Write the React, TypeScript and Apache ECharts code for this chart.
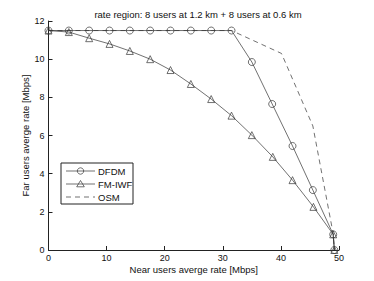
import React, { useEffect, useRef } from "react";
import * as echarts from "echarts";

const titleText = "rate region: 8 users at 1.2 km + 8 users at 0.6 km";
const xName = "Near users averge rate [Mbps]";
const yName = "Far users averge rate [Mbps]";
const legendNames = ["DFDM", "FM-IWF", "OSM"];

const dfdmX = [0, 3.5, 7, 10.5, 14, 17.5, 21, 24.5, 28, 31.5, 35, 38.5, 42, 45.5, 49, 49.2];
const dfdmY = [11.5, 11.5, 11.5, 11.5, 11.5, 11.5, 11.5, 11.5, 11.5, 11.5, 9.85, 7.65, 5.45, 3.14, 0.82, 0];
const iwfX = [0, 3.5, 7, 10.5, 14, 17.5, 21, 24.5, 28, 31.5, 35, 38.6, 42, 45.6, 49, 49.2];
const iwfY = [11.5, 11.42, 11.1, 10.8, 10.43, 10.0, 9.43, 8.7, 7.91, 7.04, 6.02, 4.88, 3.66, 2.26, 0.82, 0];
const osmX = [0, 31.5, 40.1, 45.5, 49, 49.2];
const osmY = [11.5, 11.5, 10.3, 6.5, 0.85, 0];

const zip = (xs: number[], ys: number[]) => xs.map((x, i) => [x, ys[i]]);

export default function App() {
  const ref = useRef<HTMLDivElement>(null);
  useEffect(() => {
    const chart = echarts.init(ref.current!, null, { renderer: "svg" });
    const font = "'Liberation Sans', Arial, sans-serif";
    const lineCol = "#333";
    const lw = 0.7;
    const axisCommon = {
      axisLine: { show: true, lineStyle: { color: "#222", width: 1 } },
      axisTick: { show: true, inside: true, length: 4, lineStyle: { color: "#222" } },
      splitLine: { show: false },
      axisLabel: { color: "#111", fontSize: 9, fontFamily: font, margin: 4 },
      nameTextStyle: { color: "#111", fontSize: 9.5, fontFamily: font },
      nameMoveOverlap: false,
    };
    const lx = 61, ly = 163, lwid = 72, lh = 41;
    const rowY = [171, 184, 197];
    const legendEls: any[] = [
      { type: "rect", shape: { x: lx, y: ly, width: lwid, height: lh }, style: { fill: "#fff", stroke: "#222", lineWidth: 1 } },
    ];
    legendNames.forEach((n, i) => {
      const y = rowY[i];
      legendEls.push({
        type: "line",
        shape: { x1: 66, y1: y, x2: 95, y2: y },
        style: { stroke: lineCol, lineWidth: lw, lineDash: i === 2 ? [5, 4] : null },
      });
      if (i === 0) {
        legendEls.push({ type: "circle", shape: { cx: 80.5, cy: y, r: 3.2 }, style: { fill: "none", stroke: lineCol, lineWidth: lw } });
      } else if (i === 1) {
        legendEls.push({
          type: "polygon",
          shape: { points: [[80.5, y - 3.5], [84.3, y + 2.8], [76.7, y + 2.8]] },
          style: { fill: "none", stroke: lineCol, lineWidth: lw },
        });
      }
      legendEls.push({
        type: "text",
        x: 98,
        y,
        style: { text: n, fontSize: 9.5, fontFamily: font, fill: "#111", verticalAlign: "middle", align: "left" },
      });
    });
    chart.setOption({
      animation: false,
      backgroundColor: "#fff",
      title: {
        text: titleText,
        left: 193,
        textAlign: "center",
        top: 4,
        textStyle: { fontSize: 9.5, fontWeight: "normal", color: "#111", fontFamily: font },
      },
      grid: { left: 48.5, right: 35, top: 21, bottom: 31 },
      xAxis: {
        type: "value",
        min: 0,
        max: 50,
        interval: 10,
        name: xName,
        nameLocation: "middle",
        nameGap: 14,
        ...axisCommon,
        axisLabel: { ...axisCommon.axisLabel, margin: 3 },
      },
      yAxis: {
        type: "value",
        min: 0,
        max: 12,
        interval: 2,
        name: yName,
        nameLocation: "middle",
        nameGap: 18,
        ...axisCommon,
      },
      graphic: { elements: [{ type: "group", z: 100, children: legendEls }] },
      series: [
        {
          name: "OSM",
          type: "line",
          data: zip(osmX, osmY),
          symbol: "none",
          lineStyle: { color: lineCol, width: lw, type: [5, 4] },
          z: 1,
        },
        {
          name: "DFDM",
          type: "line",
          data: zip(dfdmX, dfdmY),
          symbol: "circle",
          symbolSize: 7,
          lineStyle: { color: lineCol, width: lw },
          itemStyle: { color: "rgba(0,0,0,0)", borderColor: lineCol, borderWidth: lw },
          z: 2,
        },
        {
          name: "FM-IWF",
          type: "line",
          data: zip(iwfX, iwfY),
          symbol: "triangle",
          symbolSize: 7,
          lineStyle: { color: lineCol, width: lw },
          itemStyle: { color: "rgba(0,0,0,0)", borderColor: lineCol, borderWidth: lw },
          z: 3,
        },
      ],
    });
    return () => chart.dispose();
  }, []);
  return <div ref={ref} style={{ width: 374, height: 281, position: "absolute", left: 0, top: 0 }} />;
}
